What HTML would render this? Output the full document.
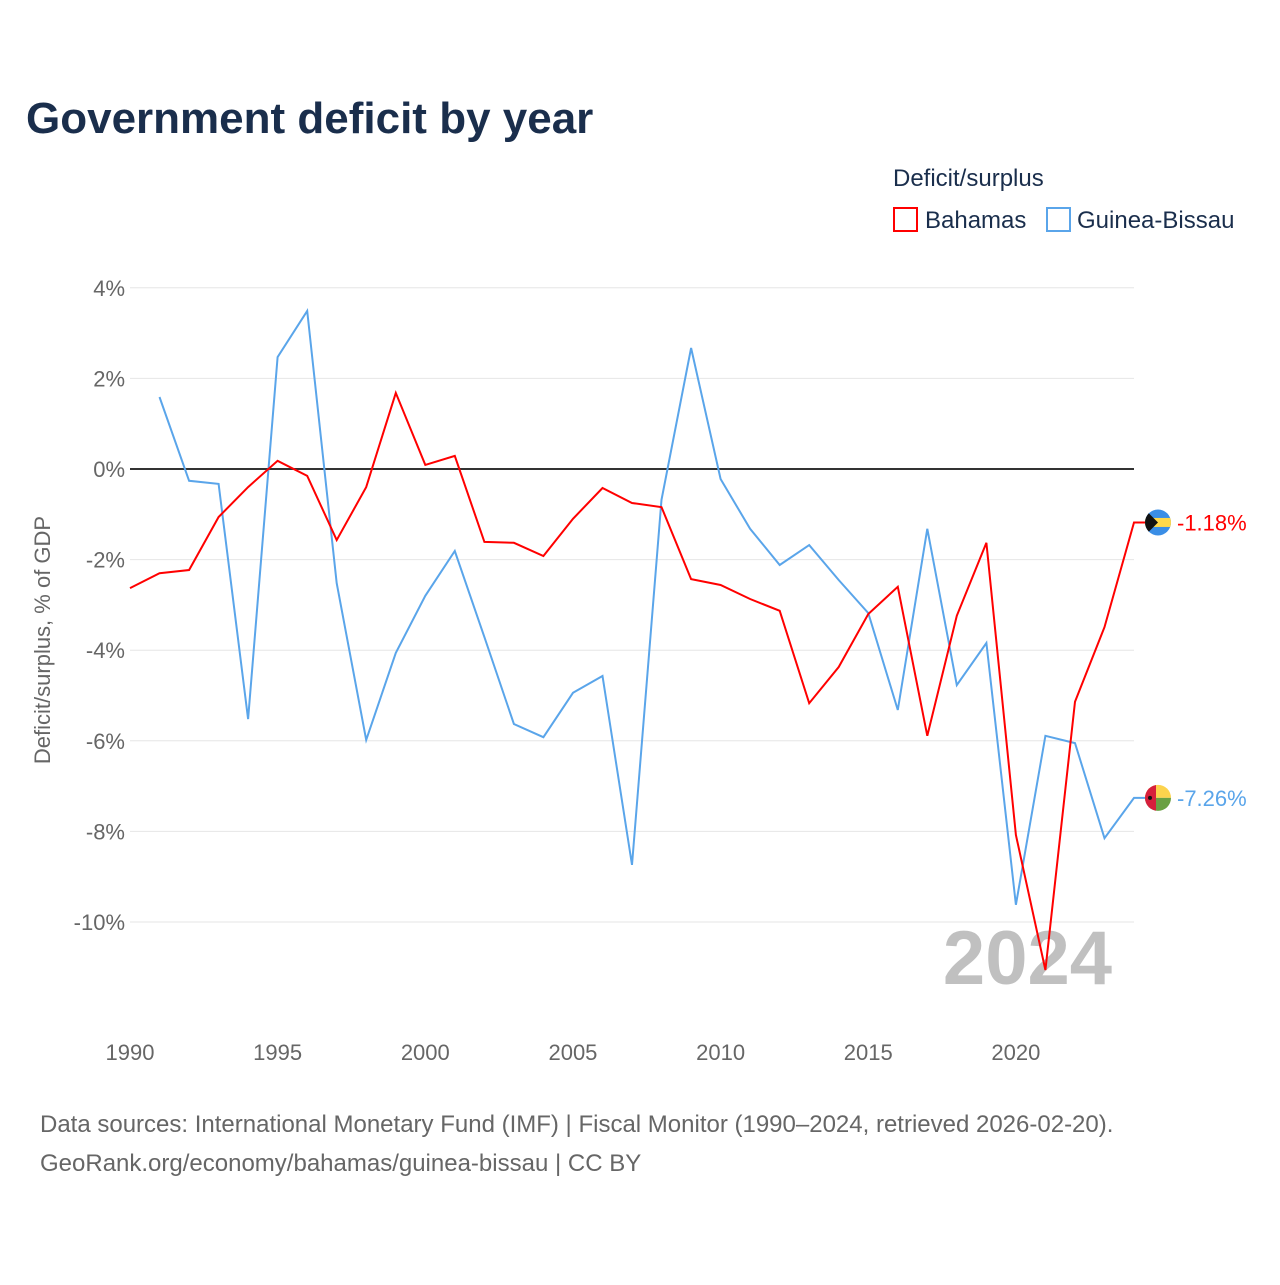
<!DOCTYPE html>
<html><head><meta charset="utf-8">
<style>
body{margin:0;background:#fff;font-family:"Liberation Sans",sans-serif;}
</style></head>
<body>
<svg id="chart" width="1280" height="1280" xmlns="http://www.w3.org/2000/svg" font-family="Liberation Sans, sans-serif">
<rect width="1280" height="1280" fill="#fff"/>
<defs>
<clipPath id="cb"><circle cx="1158" cy="522" r="13"/></clipPath>
<clipPath id="cg"><circle cx="1158" cy="798" r="13"/></clipPath>
</defs>
<text x="26" y="133" font-size="44" font-weight="bold" fill="#1a2e4c">Government deficit by year</text>
<text x="893" y="186" font-size="24" fill="#1a2e4c">Deficit/surplus</text>
<g><rect x="894" y="208" width="23" height="23" fill="none" stroke="#ff0000" stroke-width="2"/><text x="925" y="228" font-size="24" fill="#1a2e4c">Bahamas</text></g>
<g><rect x="1047" y="208" width="23" height="23" fill="none" stroke="#5aa5ea" stroke-width="2"/><text x="1077" y="228" font-size="24" fill="#1a2e4c">Guinea-Bissau</text></g>
<text transform="translate(50,640) rotate(-90)" text-anchor="middle" font-size="22" fill="#666">Deficit/surplus, % of GDP</text>
<g id="grid"></g>
<text x="1112" y="984" text-anchor="end" font-size="76" font-weight="bold" fill="#c0c0c0">2024</text>
<g id="series"></g>
<text x="40" y="1132" font-size="24" fill="#666">Data sources: International Monetary Fund (IMF) | Fiscal Monitor (1990–2024, retrieved 2026-02-20).</text>
<text x="40" y="1171" font-size="24" fill="#666">GeoRank.org/economy/bahamas/guinea-bissau | CC BY</text>
</svg>
<script>
const years=[];for(let y=1990;y<=2024;y++)years.push(y);
const bahamas=[-2.63,-2.3,-2.23,-1.06,-0.4,0.18,-0.15,-1.57,-0.4,1.68,0.09,0.29,-1.61,-1.63,-1.92,-1.1,-0.42,-0.75,-0.84,-2.43,-2.56,-2.87,-3.13,-5.17,-4.37,-3.2,-2.6,-5.89,-3.24,-1.63,-8.08,-11.06,-5.14,-3.49,-1.18];
const guinea=[null,1.59,-0.26,-0.33,-5.52,2.47,3.49,-2.52,-5.98,-4.06,-2.8,-1.81,-3.71,-5.63,-5.92,-4.94,-4.57,-8.74,-0.68,2.67,-0.22,-1.32,-2.12,-1.68,-2.45,-3.18,-5.32,-1.32,-4.77,-3.84,-9.62,-5.89,-6.05,-8.15,-7.26];
const yTicks=[4,2,0,-2,-4,-6,-8,-10];
const xTicks=[1990,1995,2000,2005,2010,2015,2020];
const X=y=>130+(y-1990)*29.53;
const Y=v=>469-v*45.3;
const NS="http://www.w3.org/2000/svg";
const g=document.getElementById('grid'),s=document.getElementById('series');
function mk(tag,attrs,parent){const e=document.createElementNS(NS,tag);for(const k in attrs)e.setAttribute(k,attrs[k]);parent.appendChild(e);return e;}
yTicks.forEach(v=>{
 const l=mk('line',{x1:130,x2:1134,y1:Y(v),y2:Y(v),stroke:v===0?'#333':'#e6e6e6','stroke-width':v===0?2:1},g);
 
 
 const t=mk('text',{x:125,y:Y(v)+8,'text-anchor':'end','font-size':22,fill:'#666'},g);
 t.textContent=v+'%';
 
 
});
xTicks.forEach(v=>{
 const t=mk('text',{x:X(v),y:1060,'text-anchor':'middle','font-size':22,fill:'#666'},g);
 t.textContent=v;
 
 
});
function line(vals,color,name,flag){
 let d='';vals.forEach((v,i)=>{if(v===null)return;d+=(d?'L':'M')+X(years[i]).toFixed(1)+','+Y(v).toFixed(1);});
 const last=vals[vals.length-1];
 const cy=Y(last);
 d+='L1150,'+cy.toFixed(1);
 const p=mk('path',{d:d,fill:'none',stroke:color,'stroke-width':2},s);
 
 
 const fg=mk('g',{},s);
 
 
 flag(fg,cy);
 const t=mk('text',{x:1177,y:cy+8,'font-size':22,fill:color},s);
 t.textContent=last.toFixed(2)+'%';
 
 
}
function bahFlag(fg,cy){
 document.querySelector('#cb circle').setAttribute('cy',cy);
 const c=mk('g',{'clip-path':'url(#cb)'},fg);
 mk('rect',{x:1144,y:cy-14,width:28,height:28,fill:'#3a8ee6'},c);
 mk('rect',{x:1144,y:cy-4.5,width:28,height:9,fill:'#ffd84a'},c);
 mk('polygon',{points:`1144,${cy-14} 1158,${cy} 1144,${cy+14}`,fill:'#111'},c);
}
function gbFlag(fg,cy){
 document.querySelector('#cg circle').setAttribute('cy',cy);
 const c=mk('g',{'clip-path':'url(#cg)'},fg);
 mk('rect',{x:1144,y:cy-14,width:28,height:14,fill:'#fcd34d'},c);
 mk('rect',{x:1144,y:cy,width:28,height:14,fill:'#6aa043'},c);
 mk('rect',{x:1144,y:cy-14,width:12,height:28,fill:'#d61f3c'},c);
 mk('circle',{cx:1150,cy:cy,r:2,fill:'#111'},c);
}
line(guinea,'#5aa5ea','guinea-bissau',gbFlag);
line(bahamas,'#ff0000','bahamas',bahFlag);
</script>
</body></html>
